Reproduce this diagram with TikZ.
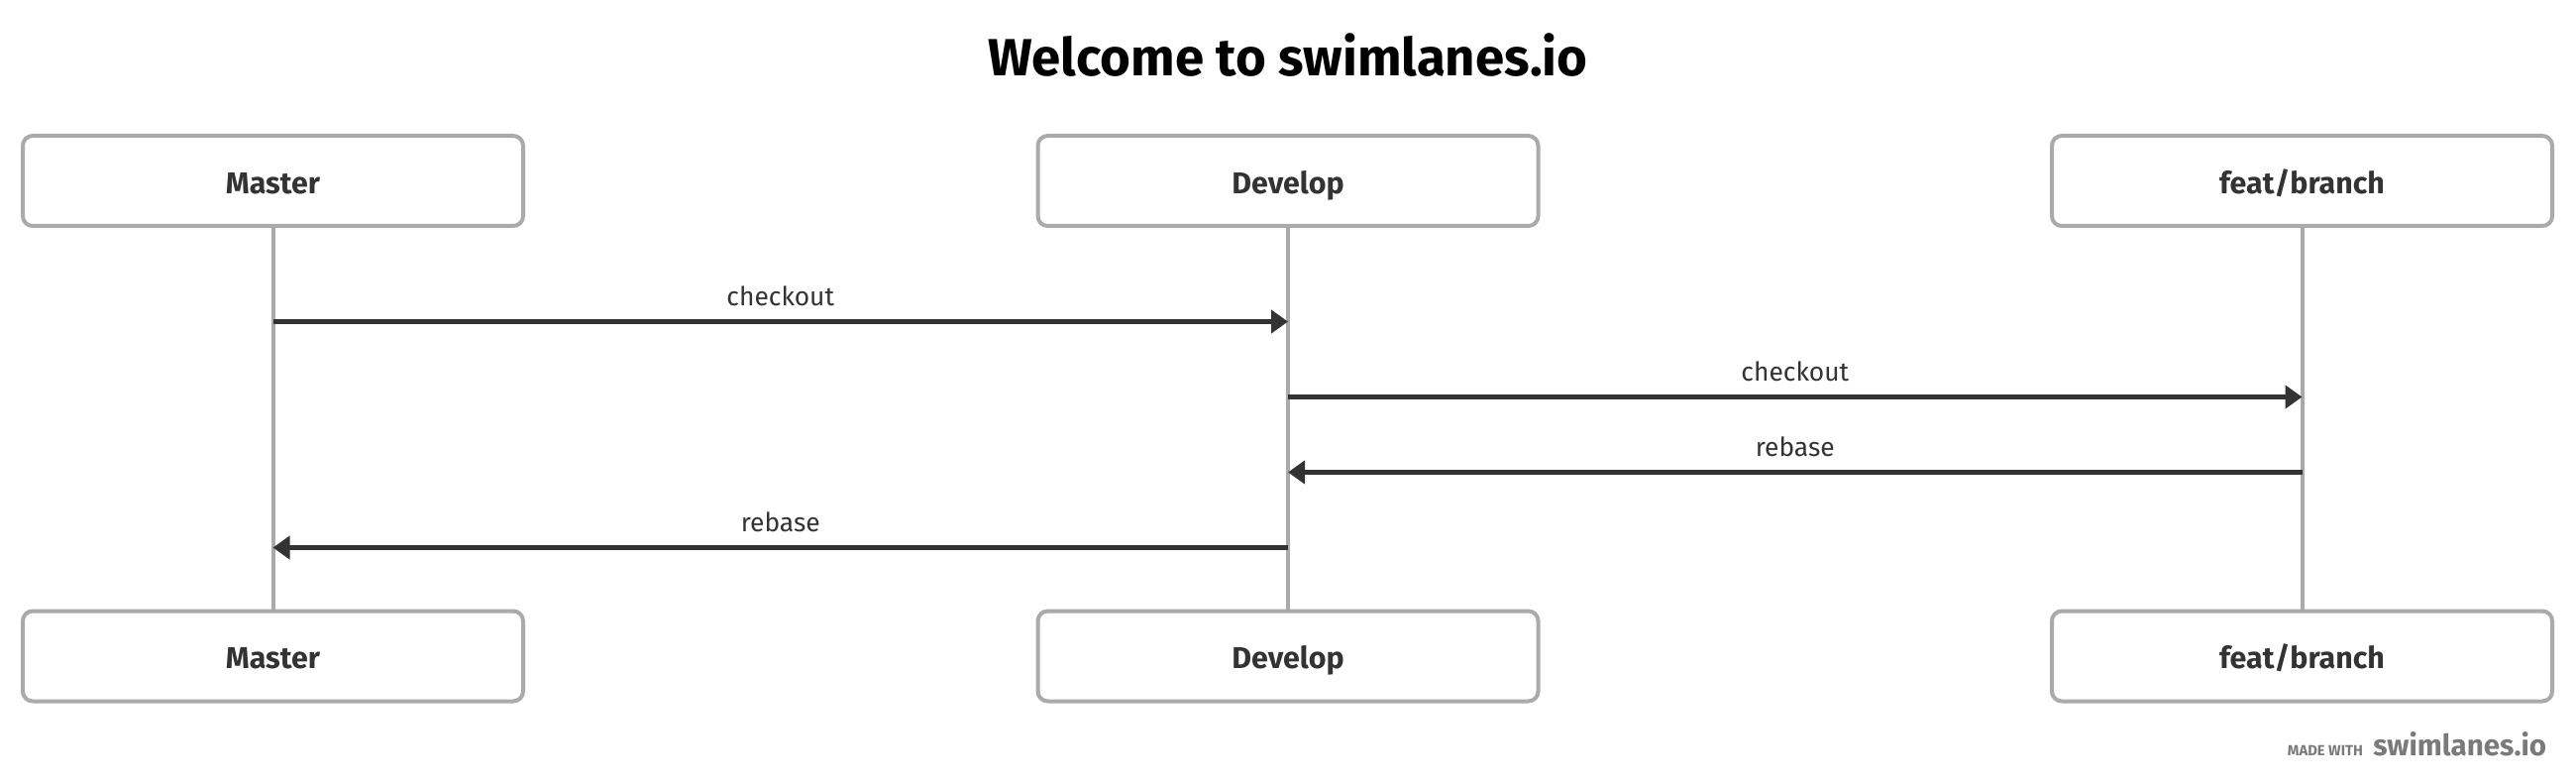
\documentclass[tikz,border=0pt]{standalone}
\usepackage{fontspec}
\setmainfont{Fira Sans}
\usetikzlibrary{arrows.meta}
\definecolor{lane}{HTML}{AAAAAA}
\definecolor{ink}{HTML}{333333}
\definecolor{foot}{HTML}{7A7A7A}
\begin{document}
\begin{tikzpicture}[x=0.25pt,y=-0.25pt,
  lanebox/.style={draw=lane, line width=1pt, rounded corners=2.5pt, fill=white,
    minimum width=126.25pt, minimum height=22.75pt, inner sep=0pt,
    text height=6.25pt, text depth=0pt,
    font=\fontsize{7.6pt}{9pt}\selectfont\bfseries, text=ink},
  lifeline/.style={draw=lane, line width=1pt},
  msg/.style={draw=ink, line width=1.1pt, -{Triangle[length=4.25pt,width=5.75pt]}},
  msglabel/.style={anchor=base, yshift=3.9pt, inner sep=0pt,
    font=\fontsize{6.6pt}{8pt}\selectfont, text=ink}]
\useasboundingbox (0,0) rectangle (2600,791);
% title
\node[anchor=base, inner sep=0pt, font=\fontsize{13.2pt}{15pt}\selectfont\bfseries, text=black]
  (title) at (1300,77) {Welcome to swimlanes.io};
% lifelines
\foreach \n/\x in {m/275.5, d/1300, f/2323.5} {
  \coordinate (\n top) at (\x,228);
  \coordinate (\n bot) at (\x,618);
}
\draw[lifeline] (mtop) -- (mbot);
\draw[lifeline] (dtop) -- (dbot);
\draw[lifeline] (ftop) -- (fbot);
% boxes
\node[lanebox] (mhead) at (275.5,182.5) {Master};
\node[lanebox] (dhead) at (1300,182.5) {Develop};
\node[lanebox] (fhead) at (2323.5,182.5) {feat/branch};
\node[lanebox] (mfoot) at (275.5,662) {Master};
\node[lanebox] (dfoot) at (1300,662) {Develop};
\node[lanebox] (ffoot) at (2323.5,662) {feat/branch};
% message points
\coordinate (m1) at (275.5,324.5);
\coordinate (d1) at (1300,324.5);
\coordinate (d2) at (1300,400.5);
\coordinate (f2) at (2323.5,400.5);
\coordinate (f3) at (2323.5,476.5);
\coordinate (d3) at (1300,476.5);
\coordinate (d4) at (1300,552.5);
\coordinate (m4) at (275.5,552.5);
\draw[msg] (m1) -- node[msglabel] (l1) {checkout} (d1);
\draw[msg] (d2) -- node[msglabel] (l2) {checkout} (f2);
\draw[msg] (f3) -- node[msglabel] (l3) {rebase} (d3);
\draw[msg] (d4) -- node[msglabel] (l4) {rebase} (m4);
% footer
\node[anchor=base east, inner sep=0pt, text=foot, font=\fontsize{7.4pt}{9pt}\selectfont\bfseries]
  (brand) at (2571,762) {swimlanes.io};
\node[anchor=base east, inner sep=0pt, text=foot, font=\fontsize{3.7pt}{5pt}\selectfont\bfseries]
  (made) at ([xshift=-2.2pt]brand.base west) {MADE WITH};
\end{tikzpicture}
\end{document}
